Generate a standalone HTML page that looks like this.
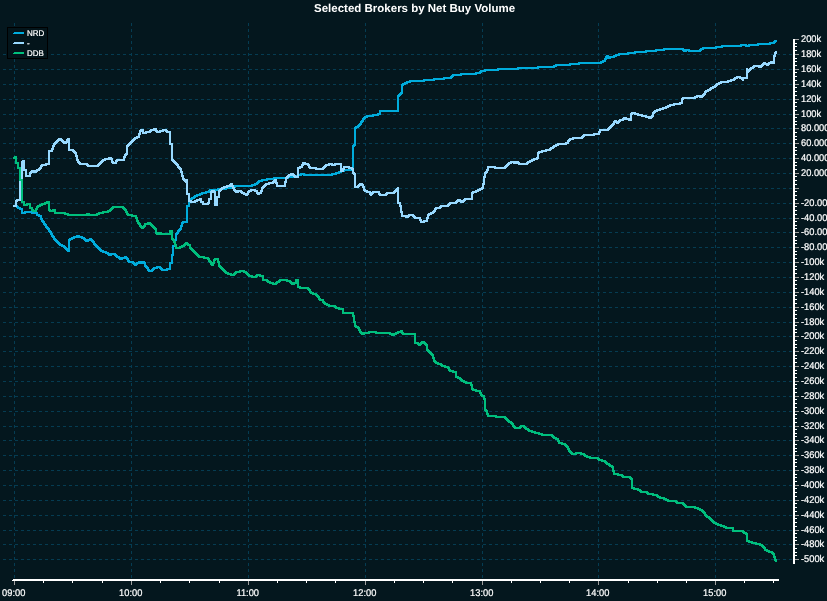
<!DOCTYPE html>
<html lang="en"><head><meta charset="utf-8"><title>Selected Brokers by Net Buy Volume</title>
<style>html,body{margin:0;padding:0;background:#04171e;overflow:hidden}body{width:827px;height:601px;position:relative}svg{display:block;position:absolute;left:0;top:0}text{font-family:"Liberation Sans",Arial,sans-serif;fill:#ffffff}.ax{font-size:9.3px;stroke:#fff;stroke-width:0.2px}.lg{font-size:8px;stroke:#fff;stroke-width:0.2px}.ti{font-size:11.5px;font-weight:bold}</style></head><body>
<svg text-rendering="geometricPrecision" width="827" height="601" viewBox="0 0 827 601">
<rect x="0" y="0" width="827" height="601" fill="#04171e"/>
<g shape-rendering="crispEdges" stroke="#053c52" stroke-width="1" stroke-dasharray="3 3" fill="none">
<line x1="3" y1="54.5" x2="792" y2="54.5"/>
<line x1="3" y1="69.5" x2="792" y2="69.5"/>
<line x1="3" y1="84.5" x2="792" y2="84.5"/>
<line x1="3" y1="99.5" x2="792" y2="99.5"/>
<line x1="3" y1="114.5" x2="792" y2="114.5"/>
<line x1="3" y1="128.5" x2="792" y2="128.5"/>
<line x1="3" y1="143.5" x2="792" y2="143.5"/>
<line x1="3" y1="158.5" x2="792" y2="158.5"/>
<line x1="3" y1="173.5" x2="792" y2="173.5"/>
<line x1="3" y1="188.5" x2="792" y2="188.5"/>
<line x1="3" y1="203.5" x2="792" y2="203.5"/>
<line x1="3" y1="218.5" x2="792" y2="218.5"/>
<line x1="3" y1="232.5" x2="792" y2="232.5"/>
<line x1="3" y1="247.5" x2="792" y2="247.5"/>
<line x1="3" y1="262.5" x2="792" y2="262.5"/>
<line x1="3" y1="277.5" x2="792" y2="277.5"/>
<line x1="3" y1="292.5" x2="792" y2="292.5"/>
<line x1="3" y1="307.5" x2="792" y2="307.5"/>
<line x1="3" y1="322.5" x2="792" y2="322.5"/>
<line x1="3" y1="336.5" x2="792" y2="336.5"/>
<line x1="3" y1="351.5" x2="792" y2="351.5"/>
<line x1="3" y1="366.5" x2="792" y2="366.5"/>
<line x1="3" y1="381.5" x2="792" y2="381.5"/>
<line x1="3" y1="396.5" x2="792" y2="396.5"/>
<line x1="3" y1="411.5" x2="792" y2="411.5"/>
<line x1="3" y1="426.5" x2="792" y2="426.5"/>
<line x1="3" y1="440.5" x2="792" y2="440.5"/>
<line x1="3" y1="455.5" x2="792" y2="455.5"/>
<line x1="3" y1="470.5" x2="792" y2="470.5"/>
<line x1="3" y1="485.5" x2="792" y2="485.5"/>
<line x1="3" y1="500.5" x2="792" y2="500.5"/>
<line x1="3" y1="515.5" x2="792" y2="515.5"/>
<line x1="3" y1="530.5" x2="792" y2="530.5"/>
<line x1="3" y1="544.5" x2="792" y2="544.5"/>
<line x1="3" y1="559.5" x2="792" y2="559.5"/>
<line x1="14.5" y1="23" x2="14.5" y2="579"/>
<line x1="131.5" y1="23" x2="131.5" y2="579"/>
<line x1="248.5" y1="23" x2="248.5" y2="579"/>
<line x1="365.5" y1="23" x2="365.5" y2="579"/>
<line x1="482.5" y1="23" x2="482.5" y2="579"/>
<line x1="598.5" y1="23" x2="598.5" y2="579"/>
<line x1="715.5" y1="23" x2="715.5" y2="579"/>
</g>
<g shape-rendering="crispEdges">
<path fill="#00acdc" d="M13 205h5v1h-5zM13 206h6v1h-6zM16 207h5v1h-5zM17 208h6v1h-6zM19 209h4v1h-4zM21 210h2v2h-2zM21 213h5v1h-5zM21 212h17v1h-17zM24 211h9v1h-9zM31 213h7v1h-7zM36 214h4v1h-4zM36 215h6v1h-6zM38 216h4v1h-4zM40 217h2v1h-2zM40 218h3v2h-3zM41 220h3v1h-3zM41 221h4v1h-4zM42 222h3v1h-3zM43 223h3v1h-3zM43 224h4v1h-4zM44 225h3v1h-3zM45 226h3v1h-3zM45 227h4v1h-4zM46 228h4v1h-4zM47 229h3v1h-3zM48 230h3v1h-3zM48 231h4v1h-4zM49 232h3v1h-3zM50 233h3v2h-3zM51 235h3v1h-3zM51 236h4v1h-4zM52 237h3v1h-3zM53 238h3v1h-3zM53 239h4v1h-4zM54 240h4v1h-4zM55 241h4v1h-4zM56 242h4v1h-4zM57 243h4v1h-4zM58 244h5v1h-5zM59 245h6v1h-6zM61 246h5v1h-5zM63 247h4v1h-4zM64 248h6v1h-6zM65 249h5v1h-5zM66 250h4v1h-4zM67 251h3v1h-3zM68 241h2v7h-2zM68 240h3v1h-3zM68 239h5v1h-5zM69 238h6v1h-6zM71 237h14v1h-14zM73 236h10v1h-10zM76 235h4v1h-4zM81 238h5v1h-5zM83 239h10v1h-10zM84 240h10v1h-10zM85 241h4v1h-4zM89 238h3v1h-3zM91 241h4v1h-4zM92 242h3v1h-3zM93 243h3v1h-3zM93 244h4v1h-4zM94 245h4v1h-4zM95 246h4v1h-4zM96 247h4v1h-4zM97 248h4v1h-4zM98 249h4v1h-4zM99 250h5v1h-5zM100 251h7v1h-7zM102 252h7v1h-7zM105 253h11v1h-11zM107 254h10v1h-10zM108 255h4v1h-4zM114 255h4v1h-4zM115 256h5v1h-5zM116 257h12v1h-12zM118 258h11v1h-11zM119 259h4v1h-4zM124 256h3v1h-3zM126 259h3v1h-3zM127 260h3v1h-3zM127 261h7v1h-7zM128 262h7v1h-7zM132 263h14v1h-14zM133 264h5v1h-5zM134 265h3v1h-3zM136 262h10v1h-10zM138 261h7v1h-7zM144 264h2v1h-2zM144 265h3v1h-3zM144 266h4v1h-4zM145 267h4v1h-4zM146 268h3v1h-3zM147 269h3v1h-3zM147 270h7v1h-7zM148 271h5v1h-5zM151 269h4v1h-4zM152 268h6v1h-6zM153 267h9v1h-9zM156 266h5v1h-5zM159 268h4v1h-4zM160 269h11v1h-11zM161 270h7v1h-7zM166 268h5v1h-5zM169 264h2v4h-2zM169 262h4v2h-4zM171 256h2v6h-2zM171 254h3v2h-3zM172 247h2v7h-2zM172 245h4v2h-4zM174 241h2v4h-2zM174 239h3v2h-3zM175 235h2v4h-2zM175 234h3v1h-3zM175 233h4v1h-4zM176 232h3v1h-3zM177 231h3v1h-3zM177 230h4v1h-4zM178 229h4v1h-4zM179 228h3v1h-3zM180 227h2v1h-2zM180 225h3v2h-3zM181 224h2v1h-2zM181 223h3v1h-3zM181 222h7v1h-7zM182 221h6v1h-6zM186 207h2v14h-2zM186 205h4v2h-4zM188 202h2v3h-2zM188 201h3v1h-3zM188 200h4v1h-4zM189 199h4v1h-4zM190 198h5v1h-5zM191 197h5v1h-5zM193 196h5v1h-5zM194 195h7v1h-7zM196 194h7v1h-7zM199 193h8v1h-8zM201 192h9v1h-9zM205 191h6v1h-6zM208 190h11v1h-11zM209 189h18v1h-18zM217 188h16v1h-16zM225 187h11v1h-11zM231 186h22v1h-22zM234 185h22v1h-22zM251 184h7v1h-7zM254 183h5v1h-5zM256 182h4v1h-4zM257 181h6v1h-6zM258 180h10v1h-10zM261 179h14v1h-14zM266 178h23v1h-23zM273 177h22v1h-22zM287 176h12v1h-12zM293 175h9v1h-9zM297 174h40v1h-40zM300 173h5v1h-5zM303 175h30v1h-30zM331 173h9v1h-9zM335 172h7v1h-7zM338 171h7v1h-7zM340 170h14v1h-14zM343 169h11v1h-11zM352 147h2v22h-2zM352 146h3v1h-3zM352 145h4v1h-4zM353 144h3v1h-3zM354 129h2v15h-2zM354 128h3v1h-3zM354 127h5v1h-5zM355 126h5v1h-5zM357 125h4v1h-4zM358 124h4v1h-4zM359 123h3v1h-3zM360 122h3v1h-3zM360 121h4v1h-4zM361 120h3v1h-3zM362 119h3v1h-3zM362 118h4v1h-4zM363 117h5v1h-5zM364 116h10v1h-10zM366 115h13v1h-13zM372 114h9v1h-9zM377 113h4v1h-4zM379 112h2v1h-2zM379 110h20v2h-20zM397 97h2v13h-2zM397 96h3v1h-3zM397 95h4v1h-4zM398 94h4v1h-4zM399 93h4v1h-4zM400 92h3v1h-3zM401 86h2v6h-2zM401 85h3v1h-3zM401 84h5v1h-5zM402 83h6v1h-6zM404 82h7v1h-7zM406 81h19v1h-19zM409 80h26v1h-26zM423 79h22v1h-22zM433 78h19v1h-19zM443 77h10v1h-10zM450 76h4v1h-4zM451 75h11v1h-11zM452 74h25v1h-25zM460 73h21v1h-21zM475 72h7v1h-7zM479 71h7v1h-7zM480 70h19v1h-19zM484 69h35v1h-35zM497 68h42v1h-42zM517 67h38v1h-38zM537 66h20v1h-20zM553 65h18v1h-18zM555 64h25v1h-25zM569 63h33v1h-33zM578 62h26v1h-26zM600 61h6v1h-6zM602 60h4v1h-4zM604 59h3v1h-3zM604 58h7v1h-7zM605 57h10v1h-10zM605 56h12v1h-12zM606 55h3v1h-3zM613 55h7v1h-7zM615 54h14v1h-14zM618 53h18v1h-18zM627 52h20v1h-20zM634 51h23v1h-23zM645 50h20v1h-20zM655 49h35v1h-35zM663 48h21v1h-21zM682 50h20v1h-20zM683 51h4v1h-4zM688 51h13v1h-13zM699 49h5v1h-5zM700 48h17v1h-17zM702 47h21v1h-21zM715 46h27v1h-27zM721 45h38v1h-38zM740 44h7v1h-7zM745 46h5v1h-5zM748 44h23v1h-23zM757 43h18v1h-18zM769 42h7v1h-7zM773 41h4v1h-4zM774 40h3v1h-3z"/>
<path fill="#98d9ff" d="M13 205h4v2h-4zM15 202h2v3h-2zM15 201h3v1h-3zM15 200h6v1h-6zM16 199h5v1h-5zM19 182h2v17h-2zM19 181h3v1h-3zM19 179h4v2h-4zM21 171h2v8h-2zM21 161h4v8h-4zM21 169h6v2h-6zM22 160h3v1h-3zM25 171h2v4h-2zM25 175h6v2h-6zM29 174h2v1h-2zM29 173h3v1h-3zM29 172h8v1h-8zM30 171h8v1h-8zM31 170h9v1h-9zM36 169h5v1h-5zM38 168h4v1h-4zM39 167h3v1h-3zM40 166h3v1h-3zM40 165h7v1h-7zM41 164h9v1h-9zM45 163h5v1h-5zM48 152h2v11h-2zM48 150h5v2h-5zM51 148h3v2h-3zM52 147h2v1h-2zM52 145h3v2h-3zM53 144h3v1h-3zM53 143h4v1h-4zM54 142h4v1h-4zM55 141h4v1h-4zM56 140h8v1h-8zM57 139h6v1h-6zM58 138h4v1h-4zM61 141h9v1h-9zM62 142h8v1h-8zM63 143h4v1h-4zM66 139h4v2h-4zM67 138h3v1h-3zM68 143h2v6h-2zM68 149h6v1h-6zM68 150h7v1h-7zM72 151h4v1h-4zM73 152h4v1h-4zM74 153h3v1h-3zM75 154h2v1h-2zM75 155h3v2h-3zM76 157h2v2h-2zM76 159h3v2h-3zM77 161h3v1h-3zM77 162h4v1h-4zM78 163h10v1h-10zM79 164h10v1h-10zM86 165h14v1h-14zM87 166h12v1h-12zM97 164h4v1h-4zM98 163h4v1h-4zM99 162h4v1h-4zM100 161h4v1h-4zM101 160h5v1h-5zM102 159h11v1h-11zM104 158h9v1h-9zM108 157h4v1h-4zM111 160h2v1h-2zM111 161h3v1h-3zM111 162h6v1h-6zM112 163h5v1h-5zM115 161h3v1h-3zM115 160h10v1h-10zM116 159h9v1h-9zM123 158h2v1h-2zM123 156h3v2h-3zM124 155h3v1h-3zM124 154h4v1h-4zM125 153h3v1h-3zM126 147h2v6h-2zM126 146h3v1h-3zM126 145h4v1h-4zM127 144h4v1h-4zM128 143h4v1h-4zM129 142h4v1h-4zM130 141h4v1h-4zM131 140h4v1h-4zM132 139h4v1h-4zM133 138h5v1h-5zM134 137h6v1h-6zM136 136h4v1h-4zM138 135h2v1h-2zM138 133h3v2h-3zM139 132h2v1h-2zM139 130h5v2h-5zM140 129h4v1h-4zM142 133h5v1h-5zM142 132h9v1h-9zM145 131h7v1h-7zM149 130h9v1h-9zM150 129h7v1h-7zM153 128h4v1h-4zM155 131h9v1h-9zM156 132h5v1h-5zM159 130h9v1h-9zM162 129h5v1h-5zM165 131h6v1h-6zM166 132h5v1h-5zM169 133h2v10h-2zM169 143h4v2h-4zM171 145h2v14h-2zM171 159h3v1h-3zM171 160h4v1h-4zM172 161h4v1h-4zM173 162h4v1h-4zM174 163h4v1h-4zM175 164h4v1h-4zM176 165h3v1h-3zM177 166h3v1h-3zM177 167h4v1h-4zM178 168h4v1h-4zM179 169h3v1h-3zM180 170h2v1h-2zM180 171h3v2h-3zM181 173h2v2h-2zM181 175h3v2h-3zM182 177h2v1h-2zM182 178h3v1h-3zM182 179h6v1h-6zM183 180h5v1h-5zM184 181h4v1h-4zM185 182h3v1h-3zM186 183h2v10h-2zM186 193h4v2h-4zM188 195h2v5h-2zM188 200h4v1h-4zM188 201h10v1h-10zM190 202h6v1h-6zM194 200h8v1h-8zM196 199h6v1h-6zM199 198h3v1h-3zM200 201h4v2h-4zM202 204h7v1h-7zM202 203h8v1h-8zM207 202h3v1h-3zM208 200h2v2h-2zM208 198h4v2h-4zM210 193h2v5h-2zM210 191h6v2h-6zM211 190h4v1h-4zM214 193h2v3h-2zM214 198h4v8h-4zM214 196h6v2h-6zM218 192h2v4h-2zM218 191h3v1h-3zM218 190h4v1h-4zM219 189h4v1h-4zM220 188h5v1h-5zM221 187h7v1h-7zM223 186h11v1h-11zM226 185h8v1h-8zM229 184h4v1h-4zM230 183h3v1h-3zM232 187h3v2h-3zM233 189h3v1h-3zM233 190h9v1h-9zM234 191h9v1h-9zM235 192h4v1h-4zM240 192h5v1h-5zM241 193h8v1h-8zM243 194h6v1h-6zM245 195h3v1h-3zM247 192h3v1h-3zM247 191h5v1h-5zM248 190h10v1h-10zM250 189h6v1h-6zM254 191h4v1h-4zM256 192h6v2h-6zM257 194h3v1h-3zM260 190h3v2h-3zM261 189h2v1h-2zM261 188h3v1h-3zM261 187h4v1h-4zM262 186h4v1h-4zM263 185h4v1h-4zM264 184h6v1h-6zM265 183h9v1h-9zM268 182h10v1h-10zM272 181h5v1h-5zM273 180h4v1h-4zM274 179h3v1h-3zM275 183h3v1h-3zM276 184h2v1h-2zM276 185h10v2h-10zM284 183h2v2h-2zM284 181h3v2h-3zM285 179h2v2h-2zM285 178h3v1h-3zM285 177h4v1h-4zM286 176h4v1h-4zM287 175h9v1h-9zM288 174h7v1h-7zM290 173h4v1h-4zM293 176h6v1h-6zM294 177h5v1h-5zM297 169h2v7h-2zM297 168h4v1h-4zM297 167h6v1h-6zM299 166h4v1h-4zM301 165h3v1h-3zM301 164h9v1h-9zM302 162h4v1h-4zM302 163h7v1h-7zM307 165h3v1h-3zM308 166h3v1h-3zM308 167h9v1h-9zM309 168h16v1h-16zM315 169h9v1h-9zM322 167h4v1h-4zM323 166h4v1h-4zM324 165h6v1h-6zM325 164h17v1h-17zM328 163h5v1h-5zM331 165h5v1h-5zM334 163h8v1h-8zM340 165h2v3h-2zM340 170h4v2h-4zM340 168h5v2h-5zM343 166h7v1h-7zM343 167h10v1h-10zM348 168h6v1h-6zM351 169h3v1h-3zM352 170h2v2h-2zM352 172h3v1h-3zM352 173h4v1h-4zM353 174h3v1h-3zM354 175h2v11h-2zM354 187h5v1h-5zM354 186h6v1h-6zM357 185h7v1h-7zM358 184h6v1h-6zM359 183h4v1h-4zM362 186h3v2h-3zM363 188h2v1h-2zM363 189h3v1h-3zM363 190h5v1h-5zM364 191h7v1h-7zM366 192h14v1h-14zM369 194h4v1h-4zM369 193h5v1h-5zM370 195h2v1h-2zM372 191h8v1h-8zM378 193h3v1h-3zM378 194h10v1h-10zM379 195h8v1h-8zM385 193h10v1h-10zM386 192h10v1h-10zM393 191h6v1h-6zM394 190h5v1h-5zM395 189h4v1h-4zM396 188h3v1h-3zM397 187h2v1h-2zM397 192h2v10h-2zM397 202h4v2h-4zM399 204h2v1h-2zM399 205h3v2h-3zM400 207h2v4h-2zM400 211h3v2h-3zM401 213h2v2h-2zM401 216h9v1h-9zM401 215h14v1h-14zM405 217h4v1h-4zM408 214h6v1h-6zM412 216h4v1h-4zM413 217h8v1h-8zM414 218h7v1h-7zM419 219h3v2h-3zM420 222h5v1h-5zM420 221h8v1h-8zM423 220h5v1h-5zM426 219h2v1h-2zM426 217h3v2h-3zM427 216h2v1h-2zM427 215h3v1h-3zM427 214h5v1h-5zM428 213h6v1h-6zM430 212h5v1h-5zM432 211h4v1h-4zM433 210h3v1h-3zM434 209h3v1h-3zM434 208h7v1h-7zM435 207h7v1h-7zM439 206h10v1h-10zM440 205h10v1h-10zM447 204h4v1h-4zM448 203h9v1h-9zM449 202h9v1h-9zM455 201h10v1h-10zM456 200h10v1h-10zM457 199h4v1h-4zM460 202h4v1h-4zM463 199h10v1h-10zM464 198h9v1h-9zM471 194h2v4h-2zM471 193h3v1h-3zM471 192h6v1h-6zM472 191h7v1h-7zM475 190h6v1h-6zM477 189h6v1h-6zM479 188h5v1h-5zM481 187h3v1h-3zM482 185h2v2h-2zM482 183h3v2h-3zM483 178h2v5h-2zM483 176h3v2h-3zM484 174h2v2h-2zM484 173h3v1h-3zM484 172h4v1h-4zM485 171h3v1h-3zM486 169h3v2h-3zM487 168h2v1h-2zM487 166h9v1h-9zM487 167h20v1h-20zM494 168h12v1h-12zM504 166h4v1h-4zM505 165h4v1h-4zM506 164h4v1h-4zM507 163h5v1h-5zM508 162h12v1h-12zM510 161h9v1h-9zM513 163h16v1h-16zM518 164h10v1h-10zM526 162h5v1h-5zM527 161h6v1h-6zM529 160h6v1h-6zM531 159h7v1h-7zM533 158h6v1h-6zM536 157h3v1h-3zM537 154h2v3h-2zM537 153h3v1h-3zM537 152h6v1h-6zM538 151h9v1h-9zM541 150h10v1h-10zM545 149h7v1h-7zM549 148h5v1h-5zM550 147h5v1h-5zM552 146h5v1h-5zM553 145h6v1h-6zM555 144h12v1h-12zM557 143h12v1h-12zM565 142h4v1h-4zM567 141h3v1h-3zM567 140h4v1h-4zM568 139h6v1h-6zM569 138h14v1h-14zM572 137h12v1h-12zM581 136h4v1h-4zM582 135h13v1h-13zM583 134h17v1h-17zM593 133h7v1h-7zM598 131h3v2h-3zM599 130h10v1h-10zM599 129h11v1h-11zM607 128h4v1h-4zM608 127h4v1h-4zM609 126h4v1h-4zM610 125h4v1h-4zM611 124h4v1h-4zM612 123h3v1h-3zM613 122h7v1h-7zM613 121h8v1h-8zM614 120h3v1h-3zM616 123h3v1h-3zM618 120h6v1h-6zM619 119h13v1h-13zM622 118h10v1h-10zM623 117h4v1h-4zM628 120h4v1h-4zM630 115h2v3h-2zM630 114h3v1h-3zM630 113h9v1h-9zM631 112h5v1h-5zM634 114h9v1h-9zM637 115h10v1h-10zM641 116h13v1h-13zM645 117h8v1h-8zM648 118h4v1h-4zM651 115h3v1h-3zM652 114h2v1h-2zM652 113h3v1h-3zM652 112h4v1h-4zM653 111h5v1h-5zM654 110h7v1h-7zM656 109h8v1h-8zM659 108h8v1h-8zM662 107h7v1h-7zM665 106h6v1h-6zM667 105h8v1h-8zM669 104h12v1h-12zM673 103h10v1h-10zM679 102h4v1h-4zM681 100h2v2h-2zM681 99h3v1h-3zM681 98h15v1h-15zM682 97h16v1h-16zM694 96h10v1h-10zM696 95h9v1h-9zM699 97h4v1h-4zM702 94h4v1h-4zM703 93h3v1h-3zM704 92h3v1h-3zM704 91h5v1h-5zM705 90h6v1h-6zM707 89h5v1h-5zM709 88h5v1h-5zM710 87h6v1h-6zM712 86h5v1h-5zM714 85h4v1h-4zM715 84h5v1h-5zM716 83h6v1h-6zM718 82h11v1h-11zM720 81h12v1h-12zM727 80h8v1h-8zM730 79h6v1h-6zM733 78h5v1h-5zM734 77h14v1h-14zM736 76h5v1h-5zM739 78h9v1h-9zM741 79h3v1h-3zM742 80h2v1h-2zM746 68h2v1h-2zM746 73h2v4h-2zM746 72h3v1h-3zM746 71h4v1h-4zM746 70h5v1h-5zM746 69h6v1h-6zM749 68h5v1h-5zM750 67h5v1h-5zM752 66h11v1h-11zM753 65h11v1h-11zM758 67h4v1h-4zM761 64h9v1h-9zM762 63h13v1h-13zM763 62h3v1h-3zM766 65h3v1h-3zM768 62h7v1h-7zM770 61h5v1h-5zM773 57h2v4h-2zM773 55h3v2h-3zM774 54h2v1h-2zM774 52h3v2h-3zM775 51h2v1h-2z"/>
<path fill="#00be7d" d="M13 157h4v2h-4zM14 156h3v1h-3zM15 159h2v3h-2zM15 162h4v2h-4zM17 164h2v3h-2zM17 167h4v2h-4zM19 169h2v10h-2zM19 179h4v2h-4zM21 181h2v20h-2zM21 201h4v2h-4zM23 203h2v1h-2zM23 205h5v1h-5zM23 204h8v1h-8zM26 203h5v1h-5zM29 205h2v2h-2zM29 207h4v2h-4zM31 209h3v1h-3zM31 210h6v1h-6zM32 211h5v1h-5zM35 208h3v2h-3zM36 207h3v1h-3zM36 206h5v1h-5zM37 205h6v1h-6zM39 204h7v1h-7zM41 203h9v1h-9zM44 202h6v1h-6zM46 201h4v1h-4zM48 204h2v5h-2zM48 209h3v1h-3zM48 210h8v1h-8zM49 211h7v1h-7zM52 209h4v1h-4zM54 212h12v1h-12zM54 213h15v1h-15zM64 214h36v1h-36zM67 215h31v1h-31zM86 213h4v1h-4zM96 213h8v1h-8zM98 212h11v1h-11zM102 211h9v1h-9zM107 210h5v1h-5zM109 209h4v1h-4zM110 208h4v1h-4zM111 207h14v1h-14zM112 206h12v1h-12zM122 208h4v1h-4zM123 209h4v1h-4zM124 210h3v1h-3zM125 211h3v2h-3zM126 213h3v1h-3zM126 214h7v1h-7zM127 215h10v1h-10zM131 216h6v1h-6zM135 217h3v2h-3zM136 219h2v1h-2zM136 220h3v2h-3zM137 222h3v1h-3zM137 223h4v1h-4zM138 224h3v1h-3zM139 225h3v1h-3zM139 226h7v1h-7zM140 227h5v1h-5zM141 228h3v1h-3zM143 225h3v1h-3zM144 223h8v1h-8zM144 224h9v1h-9zM147 222h4v1h-4zM150 225h4v1h-4zM151 226h4v1h-4zM152 227h4v1h-4zM153 228h4v1h-4zM154 229h3v1h-3zM155 230h2v2h-2zM155 232h7v1h-7zM155 233h18v1h-18zM156 234h17v1h-17zM169 230h4v3h-4zM171 235h2v3h-2zM171 238h3v1h-3zM171 239h4v1h-4zM172 240h3v1h-3zM173 241h3v2h-3zM174 243h2v1h-2zM174 244h3v2h-3zM175 246h2v1h-2zM175 248h6v1h-6zM175 247h8v1h-8zM179 246h6v1h-6zM181 245h5v1h-5zM183 244h8v1h-8zM184 243h5v1h-5zM185 242h3v1h-3zM187 245h4v1h-4zM189 246h2v1h-2zM189 247h3v1h-3zM189 248h4v1h-4zM190 249h4v1h-4zM191 250h4v1h-4zM192 251h4v1h-4zM193 252h4v1h-4zM194 253h4v1h-4zM195 254h4v1h-4zM196 255h4v1h-4zM197 256h8v1h-8zM198 257h11v1h-11zM203 258h7v1h-7zM207 259h3v1h-3zM208 260h3v1h-3zM208 261h4v1h-4zM209 262h6v1h-6zM210 264h4v1h-4zM210 263h5v1h-5zM211 265h3v1h-3zM213 261h2v1h-2zM213 260h3v1h-3zM213 259h6v1h-6zM214 258h5v1h-5zM217 260h2v1h-2zM217 261h3v2h-3zM218 263h2v2h-2zM218 265h3v1h-3zM218 266h4v1h-4zM219 267h4v1h-4zM220 268h4v1h-4zM221 269h4v1h-4zM222 270h4v1h-4zM223 271h4v1h-4zM224 272h5v1h-5zM225 273h7v1h-7zM227 274h9v1h-9zM230 275h5v1h-5zM233 273h4v1h-4zM234 272h7v1h-7zM235 271h12v1h-12zM239 270h6v1h-6zM243 272h5v1h-5zM245 273h4v1h-4zM246 274h4v1h-4zM247 275h6v1h-6zM248 276h10v1h-10zM251 277h6v1h-6zM255 275h9v1h-9zM256 274h5v1h-5zM259 276h5v1h-5zM262 277h2v2h-2zM262 279h6v1h-6zM262 280h7v1h-7zM266 281h5v1h-5zM267 282h7v1h-7zM269 283h9v1h-9zM272 284h5v1h-5zM275 282h5v1h-5zM276 281h5v1h-5zM278 280h13v1h-13zM279 279h9v1h-9zM286 281h6v1h-6zM289 282h10v1h-10zM290 283h9v1h-9zM291 284h4v1h-4zM295 279h4v3h-4zM297 284h2v2h-2zM297 286h4v1h-4zM297 287h12v1h-12zM299 288h11v1h-11zM307 289h4v1h-4zM308 290h3v1h-3zM309 291h3v1h-3zM309 292h5v1h-5zM310 293h7v1h-7zM312 294h6v1h-6zM315 295h4v1h-4zM316 296h4v1h-4zM317 297h3v1h-3zM318 298h3v1h-3zM318 299h6v1h-6zM319 300h5v1h-5zM322 301h3v1h-3zM322 302h4v1h-4zM323 303h5v1h-5zM324 304h6v1h-6zM326 305h10v1h-10zM328 306h9v1h-9zM334 307h6v1h-6zM335 308h9v1h-9zM338 309h6v1h-6zM342 310h2v2h-2zM342 312h12v2h-12zM352 314h2v1h-2zM352 315h3v2h-3zM353 317h2v4h-2zM353 321h3v2h-3zM354 323h2v2h-2zM354 325h3v1h-3zM354 326h5v1h-5zM355 327h5v1h-5zM357 328h3v1h-3zM358 329h3v2h-3zM359 331h3v1h-3zM359 332h32v1h-32zM360 333h10v1h-10zM361 334h4v1h-4zM368 331h9v1h-9zM375 333h24v1h-24zM389 334h8v1h-8zM391 335h4v1h-4zM395 332h9v1h-9zM397 331h6v1h-6zM400 330h3v1h-3zM401 333h15v1h-15zM402 334h14v1h-14zM414 335h2v7h-2zM414 342h5v1h-5zM414 343h13v1h-13zM417 344h5v1h-5zM418 345h3v1h-3zM420 342h6v1h-6zM421 341h4v1h-4zM424 344h4v1h-4zM425 345h3v1h-3zM426 346h2v3h-2zM426 349h3v1h-3zM426 350h4v1h-4zM427 351h4v1h-4zM428 352h4v1h-4zM429 353h4v1h-4zM430 354h4v1h-4zM431 355h3v1h-3zM432 356h2v1h-2zM432 357h3v2h-3zM433 359h2v1h-2zM433 360h3v1h-3zM433 361h4v1h-4zM434 362h5v1h-5zM435 363h7v1h-7zM437 364h6v1h-6zM440 365h6v1h-6zM441 366h8v1h-8zM444 367h6v1h-6zM447 368h3v1h-3zM448 369h3v1h-3zM448 370h6v1h-6zM449 371h8v1h-8zM452 372h5v1h-5zM455 373h2v3h-2zM455 376h4v1h-4zM455 377h6v1h-6zM457 378h5v1h-5zM459 379h4v1h-4zM460 380h5v1h-5zM461 381h6v1h-6zM463 382h9v1h-9zM465 383h7v1h-7zM470 384h3v2h-3zM471 386h2v2h-2zM471 388h3v1h-3zM471 389h6v1h-6zM472 390h9v1h-9zM475 391h6v1h-6zM479 392h3v2h-3zM480 394h3v1h-3zM480 395h5v1h-5zM481 396h4v1h-4zM483 397h2v1h-2zM483 398h3v2h-3zM484 400h2v9h-2zM484 409h3v1h-3zM484 410h4v1h-4zM485 411h3v1h-3zM486 412h2v1h-2zM486 413h3v2h-3zM487 415h10v1h-10zM487 416h19v1h-19zM495 417h12v1h-12zM504 418h4v1h-4zM505 419h4v1h-4zM506 420h4v1h-4zM507 421h5v1h-5zM508 422h5v1h-5zM510 423h4v1h-4zM511 424h3v1h-3zM512 425h3v1h-3zM512 426h4v1h-4zM513 427h9v1h-9zM514 428h7v1h-7zM519 426h7v1h-7zM520 425h5v1h-5zM523 427h4v1h-4zM524 428h5v1h-5zM525 429h5v1h-5zM527 430h6v1h-6zM528 431h8v1h-8zM531 432h9v1h-9zM534 433h9v1h-9zM538 434h15v1h-15zM541 435h13v1h-13zM551 436h4v1h-4zM552 437h5v1h-5zM553 438h6v1h-6zM555 439h4v1h-4zM557 440h3v2h-3zM558 442h5v1h-5zM558 443h8v1h-8zM561 444h6v1h-6zM564 445h4v1h-4zM565 446h4v1h-4zM566 447h3v1h-3zM567 448h3v2h-3zM568 450h3v1h-3zM568 451h4v1h-4zM569 452h4v1h-4zM570 453h15v1h-15zM571 454h6v1h-6zM575 452h7v1h-7zM580 454h6v1h-6zM583 455h5v1h-5zM584 456h7v1h-7zM586 457h13v1h-13zM589 458h11v1h-11zM597 459h6v1h-6zM598 460h8v1h-8zM601 461h6v1h-6zM604 462h4v1h-4zM605 463h5v1h-5zM606 464h5v1h-5zM608 465h5v1h-5zM609 466h5v1h-5zM611 467h3v1h-3zM612 468h2v2h-2zM612 470h3v2h-3zM613 472h2v1h-2zM613 473h6v1h-6zM613 474h10v1h-10zM617 475h7v1h-7zM621 476h10v1h-10zM622 477h10v1h-10zM629 478h4v1h-4zM630 479h3v1h-3zM631 480h2v7h-2zM631 487h4v1h-4zM631 488h8v1h-8zM633 489h8v1h-8zM637 490h5v1h-5zM639 491h9v1h-9zM640 492h9v1h-9zM646 493h8v1h-8zM647 494h11v1h-11zM652 495h7v1h-7zM656 496h5v1h-5zM657 497h8v1h-8zM659 498h8v1h-8zM663 499h6v1h-6zM665 500h12v1h-12zM667 501h11v1h-11zM675 502h9v1h-9zM676 503h9v1h-9zM682 504h4v1h-4zM683 505h4v1h-4zM684 506h12v1h-12zM685 507h14v1h-14zM694 508h7v1h-7zM697 509h6v1h-6zM699 510h5v1h-5zM701 511h4v1h-4zM702 512h4v1h-4zM703 513h3v1h-3zM704 514h3v1h-3zM704 515h4v1h-4zM705 516h5v1h-5zM706 517h5v1h-5zM708 518h4v1h-4zM709 519h4v1h-4zM710 520h4v1h-4zM711 521h4v1h-4zM712 522h5v1h-5zM713 523h6v1h-6zM715 524h7v1h-7zM717 525h8v1h-8zM720 526h7v1h-7zM723 527h11v1h-11zM725 528h9v1h-9zM732 529h2v1h-2zM732 530h12v1h-12zM732 531h13v1h-13zM742 532h5v1h-5zM743 533h5v1h-5zM745 534h3v1h-3zM746 535h2v5h-2zM746 540h4v1h-4zM746 541h7v1h-7zM748 542h9v1h-9zM751 543h10v1h-10zM755 544h8v1h-8zM759 545h5v1h-5zM761 546h4v1h-4zM762 547h4v1h-4zM763 548h3v1h-3zM764 549h4v1h-4zM764 550h6v1h-6zM766 551h7v1h-7zM768 552h6v1h-6zM771 553h4v1h-4zM772 554h3v1h-3zM773 555h2v1h-2zM773 556h3v2h-3zM774 558h2v1h-2zM774 559h3v2h-3zM775 561h2v1h-2z"/>
</g>
<g shape-rendering="crispEdges">
<rect x="13" y="579" width="766" height="1" fill="#fff"/>
<rect x="12" y="580" width="767" height="1" fill="#fff"/>
<rect x="793" y="39" width="2" height="525" fill="#fff"/>
<rect x="14" y="581" width="1" height="4" fill="#a0a0a0"/>
<rect x="43" y="581" width="1" height="2" fill="#fff"/>
<rect x="72" y="581" width="1" height="2" fill="#fff"/>
<rect x="102" y="581" width="1" height="2" fill="#fff"/>
<rect x="131" y="581" width="1" height="4" fill="#a0a0a0"/>
<rect x="160" y="581" width="1" height="2" fill="#fff"/>
<rect x="189" y="581" width="1" height="2" fill="#fff"/>
<rect x="219" y="581" width="1" height="2" fill="#fff"/>
<rect x="248" y="581" width="1" height="4" fill="#a0a0a0"/>
<rect x="277" y="581" width="1" height="2" fill="#fff"/>
<rect x="306" y="581" width="1" height="2" fill="#fff"/>
<rect x="335" y="581" width="1" height="2" fill="#fff"/>
<rect x="365" y="581" width="1" height="4" fill="#a0a0a0"/>
<rect x="394" y="581" width="1" height="2" fill="#fff"/>
<rect x="423" y="581" width="1" height="2" fill="#fff"/>
<rect x="452" y="581" width="1" height="2" fill="#fff"/>
<rect x="482" y="581" width="1" height="4" fill="#a0a0a0"/>
<rect x="511" y="581" width="1" height="2" fill="#fff"/>
<rect x="540" y="581" width="1" height="2" fill="#fff"/>
<rect x="569" y="581" width="1" height="2" fill="#fff"/>
<rect x="598" y="581" width="1" height="4" fill="#a0a0a0"/>
<rect x="628" y="581" width="1" height="2" fill="#fff"/>
<rect x="657" y="581" width="1" height="2" fill="#fff"/>
<rect x="686" y="581" width="1" height="2" fill="#fff"/>
<rect x="715" y="581" width="1" height="4" fill="#a0a0a0"/>
<rect x="744" y="581" width="1" height="2" fill="#fff"/>
<rect x="773" y="581" width="1" height="2" fill="#fff"/>
<rect x="795" y="39" width="4" height="1" fill="#a0a0a0"/>
<rect x="795" y="54" width="4" height="1" fill="#a0a0a0"/>
<rect x="795" y="69" width="4" height="1" fill="#a0a0a0"/>
<rect x="795" y="84" width="4" height="1" fill="#a0a0a0"/>
<rect x="795" y="99" width="4" height="1" fill="#a0a0a0"/>
<rect x="795" y="114" width="4" height="1" fill="#a0a0a0"/>
<rect x="795" y="128" width="4" height="1" fill="#a0a0a0"/>
<rect x="795" y="143" width="4" height="1" fill="#a0a0a0"/>
<rect x="795" y="158" width="4" height="1" fill="#a0a0a0"/>
<rect x="795" y="173" width="4" height="1" fill="#a0a0a0"/>
<rect x="795" y="188" width="4" height="1" fill="#a0a0a0"/>
<rect x="795" y="203" width="4" height="1" fill="#a0a0a0"/>
<rect x="795" y="218" width="4" height="1" fill="#a0a0a0"/>
<rect x="795" y="232" width="4" height="1" fill="#a0a0a0"/>
<rect x="795" y="247" width="4" height="1" fill="#a0a0a0"/>
<rect x="795" y="262" width="4" height="1" fill="#a0a0a0"/>
<rect x="795" y="277" width="4" height="1" fill="#a0a0a0"/>
<rect x="795" y="292" width="4" height="1" fill="#a0a0a0"/>
<rect x="795" y="307" width="4" height="1" fill="#a0a0a0"/>
<rect x="795" y="322" width="4" height="1" fill="#a0a0a0"/>
<rect x="795" y="336" width="4" height="1" fill="#a0a0a0"/>
<rect x="795" y="351" width="4" height="1" fill="#a0a0a0"/>
<rect x="795" y="366" width="4" height="1" fill="#a0a0a0"/>
<rect x="795" y="381" width="4" height="1" fill="#a0a0a0"/>
<rect x="795" y="396" width="4" height="1" fill="#a0a0a0"/>
<rect x="795" y="411" width="4" height="1" fill="#a0a0a0"/>
<rect x="795" y="426" width="4" height="1" fill="#a0a0a0"/>
<rect x="795" y="440" width="4" height="1" fill="#a0a0a0"/>
<rect x="795" y="455" width="4" height="1" fill="#a0a0a0"/>
<rect x="795" y="470" width="4" height="1" fill="#a0a0a0"/>
<rect x="795" y="485" width="4" height="1" fill="#a0a0a0"/>
<rect x="795" y="500" width="4" height="1" fill="#a0a0a0"/>
<rect x="795" y="515" width="4" height="1" fill="#a0a0a0"/>
<rect x="795" y="530" width="4" height="1" fill="#a0a0a0"/>
<rect x="795" y="544" width="4" height="1" fill="#a0a0a0"/>
<rect x="795" y="559" width="4" height="1" fill="#a0a0a0"/>
<rect x="795" y="43" width="2" height="1" fill="#fff"/>
<rect x="795" y="46" width="2" height="1" fill="#fff"/>
<rect x="795" y="50" width="2" height="1" fill="#fff"/>
<rect x="795" y="58" width="2" height="1" fill="#fff"/>
<rect x="795" y="61" width="2" height="1" fill="#fff"/>
<rect x="795" y="65" width="2" height="1" fill="#fff"/>
<rect x="795" y="72" width="2" height="1" fill="#fff"/>
<rect x="795" y="76" width="2" height="1" fill="#fff"/>
<rect x="795" y="80" width="2" height="1" fill="#fff"/>
<rect x="795" y="87" width="2" height="1" fill="#fff"/>
<rect x="795" y="91" width="2" height="1" fill="#fff"/>
<rect x="795" y="95" width="2" height="1" fill="#fff"/>
<rect x="795" y="102" width="2" height="1" fill="#fff"/>
<rect x="795" y="106" width="2" height="1" fill="#fff"/>
<rect x="795" y="110" width="2" height="1" fill="#fff"/>
<rect x="795" y="117" width="2" height="1" fill="#fff"/>
<rect x="795" y="121" width="2" height="1" fill="#fff"/>
<rect x="795" y="124" width="2" height="1" fill="#fff"/>
<rect x="795" y="132" width="2" height="1" fill="#fff"/>
<rect x="795" y="136" width="2" height="1" fill="#fff"/>
<rect x="795" y="139" width="2" height="1" fill="#fff"/>
<rect x="795" y="147" width="2" height="1" fill="#fff"/>
<rect x="795" y="150" width="2" height="1" fill="#fff"/>
<rect x="795" y="154" width="2" height="1" fill="#fff"/>
<rect x="795" y="162" width="2" height="1" fill="#fff"/>
<rect x="795" y="165" width="2" height="1" fill="#fff"/>
<rect x="795" y="169" width="2" height="1" fill="#fff"/>
<rect x="795" y="176" width="2" height="1" fill="#fff"/>
<rect x="795" y="180" width="2" height="1" fill="#fff"/>
<rect x="795" y="184" width="2" height="1" fill="#fff"/>
<rect x="795" y="191" width="2" height="1" fill="#fff"/>
<rect x="795" y="195" width="2" height="1" fill="#fff"/>
<rect x="795" y="199" width="2" height="1" fill="#fff"/>
<rect x="795" y="206" width="2" height="1" fill="#fff"/>
<rect x="795" y="210" width="2" height="1" fill="#fff"/>
<rect x="795" y="214" width="2" height="1" fill="#fff"/>
<rect x="795" y="221" width="2" height="1" fill="#fff"/>
<rect x="795" y="225" width="2" height="1" fill="#fff"/>
<rect x="795" y="228" width="2" height="1" fill="#fff"/>
<rect x="795" y="236" width="2" height="1" fill="#fff"/>
<rect x="795" y="240" width="2" height="1" fill="#fff"/>
<rect x="795" y="243" width="2" height="1" fill="#fff"/>
<rect x="795" y="251" width="2" height="1" fill="#fff"/>
<rect x="795" y="254" width="2" height="1" fill="#fff"/>
<rect x="795" y="258" width="2" height="1" fill="#fff"/>
<rect x="795" y="266" width="2" height="1" fill="#fff"/>
<rect x="795" y="269" width="2" height="1" fill="#fff"/>
<rect x="795" y="273" width="2" height="1" fill="#fff"/>
<rect x="795" y="280" width="2" height="1" fill="#fff"/>
<rect x="795" y="284" width="2" height="1" fill="#fff"/>
<rect x="795" y="288" width="2" height="1" fill="#fff"/>
<rect x="795" y="295" width="2" height="1" fill="#fff"/>
<rect x="795" y="299" width="2" height="1" fill="#fff"/>
<rect x="795" y="303" width="2" height="1" fill="#fff"/>
<rect x="795" y="310" width="2" height="1" fill="#fff"/>
<rect x="795" y="314" width="2" height="1" fill="#fff"/>
<rect x="795" y="318" width="2" height="1" fill="#fff"/>
<rect x="795" y="325" width="2" height="1" fill="#fff"/>
<rect x="795" y="329" width="2" height="1" fill="#fff"/>
<rect x="795" y="332" width="2" height="1" fill="#fff"/>
<rect x="795" y="340" width="2" height="1" fill="#fff"/>
<rect x="795" y="344" width="2" height="1" fill="#fff"/>
<rect x="795" y="347" width="2" height="1" fill="#fff"/>
<rect x="795" y="355" width="2" height="1" fill="#fff"/>
<rect x="795" y="358" width="2" height="1" fill="#fff"/>
<rect x="795" y="362" width="2" height="1" fill="#fff"/>
<rect x="795" y="370" width="2" height="1" fill="#fff"/>
<rect x="795" y="373" width="2" height="1" fill="#fff"/>
<rect x="795" y="377" width="2" height="1" fill="#fff"/>
<rect x="795" y="384" width="2" height="1" fill="#fff"/>
<rect x="795" y="388" width="2" height="1" fill="#fff"/>
<rect x="795" y="392" width="2" height="1" fill="#fff"/>
<rect x="795" y="399" width="2" height="1" fill="#fff"/>
<rect x="795" y="403" width="2" height="1" fill="#fff"/>
<rect x="795" y="407" width="2" height="1" fill="#fff"/>
<rect x="795" y="414" width="2" height="1" fill="#fff"/>
<rect x="795" y="418" width="2" height="1" fill="#fff"/>
<rect x="795" y="422" width="2" height="1" fill="#fff"/>
<rect x="795" y="429" width="2" height="1" fill="#fff"/>
<rect x="795" y="433" width="2" height="1" fill="#fff"/>
<rect x="795" y="436" width="2" height="1" fill="#fff"/>
<rect x="795" y="444" width="2" height="1" fill="#fff"/>
<rect x="795" y="448" width="2" height="1" fill="#fff"/>
<rect x="795" y="451" width="2" height="1" fill="#fff"/>
<rect x="795" y="459" width="2" height="1" fill="#fff"/>
<rect x="795" y="462" width="2" height="1" fill="#fff"/>
<rect x="795" y="466" width="2" height="1" fill="#fff"/>
<rect x="795" y="474" width="2" height="1" fill="#fff"/>
<rect x="795" y="477" width="2" height="1" fill="#fff"/>
<rect x="795" y="481" width="2" height="1" fill="#fff"/>
<rect x="795" y="488" width="2" height="1" fill="#fff"/>
<rect x="795" y="492" width="2" height="1" fill="#fff"/>
<rect x="795" y="496" width="2" height="1" fill="#fff"/>
<rect x="795" y="503" width="2" height="1" fill="#fff"/>
<rect x="795" y="507" width="2" height="1" fill="#fff"/>
<rect x="795" y="511" width="2" height="1" fill="#fff"/>
<rect x="795" y="518" width="2" height="1" fill="#fff"/>
<rect x="795" y="522" width="2" height="1" fill="#fff"/>
<rect x="795" y="526" width="2" height="1" fill="#fff"/>
<rect x="795" y="533" width="2" height="1" fill="#fff"/>
<rect x="795" y="537" width="2" height="1" fill="#fff"/>
<rect x="795" y="540" width="2" height="1" fill="#fff"/>
<rect x="795" y="548" width="2" height="1" fill="#fff"/>
<rect x="795" y="552" width="2" height="1" fill="#fff"/>
<rect x="795" y="555" width="2" height="1" fill="#fff"/>
</g>
<g shape-rendering="crispEdges">
<rect x="7.5" y="27.5" width="40" height="31" fill="#03141a" stroke="#000" stroke-width="1"/>
<rect x="14" y="32" width="10" height="1" fill="#00acdc"/>
<rect x="13" y="33" width="11" height="1" fill="#00acdc"/>
<rect x="14" y="42" width="10" height="1" fill="#98d9ff"/>
<rect x="13" y="43" width="11" height="1" fill="#98d9ff"/>
<rect x="14" y="52" width="10" height="1" fill="#00be7d"/>
<rect x="13" y="53" width="11" height="1" fill="#00be7d"/>
</g>
<text class="lg" transform="translate(27.0 36.0) scale(1 1.05)">NRD</text>
<text class="lg" transform="translate(27.0 46.0) scale(1 1.05)">-</text>
<text class="lg" transform="translate(27.0 56.0) scale(1 1.05)">DDB</text>
<text class="ti" x="414.6" y="12" text-anchor="middle">Selected Brokers by Net Buy Volume</text>
<text class="ax" transform="translate(801.0 42.0) scale(1 1.05)">200k</text>
<text class="ax" transform="translate(801.0 57.0) scale(1 1.05)">180k</text>
<text class="ax" transform="translate(801.0 72.0) scale(1 1.05)">160k</text>
<text class="ax" transform="translate(801.0 87.0) scale(1 1.05)">140k</text>
<text class="ax" transform="translate(801.0 102.0) scale(1 1.05)">120k</text>
<text class="ax" transform="translate(801.0 117.0) scale(1 1.05)">100k</text>
<text class="ax" transform="translate(801.0 131.0) scale(1 1.05)">80.000</text>
<text class="ax" transform="translate(801.0 146.0) scale(1 1.05)">60.000</text>
<text class="ax" transform="translate(801.0 161.0) scale(1 1.05)">40.000</text>
<text class="ax" transform="translate(801.0 176.0) scale(1 1.05)">20.000</text>
<text class="ax" transform="translate(801.0 206.0) scale(1 1.05)">-20.000</text>
<text class="ax" transform="translate(801.0 221.0) scale(1 1.05)">-40.000</text>
<text class="ax" transform="translate(801.0 235.0) scale(1 1.05)">-60.000</text>
<text class="ax" transform="translate(801.0 250.0) scale(1 1.05)">-80.000</text>
<text class="ax" transform="translate(801.0 265.0) scale(1 1.05)">-100k</text>
<text class="ax" transform="translate(801.0 280.0) scale(1 1.05)">-120k</text>
<text class="ax" transform="translate(801.0 295.0) scale(1 1.05)">-140k</text>
<text class="ax" transform="translate(801.0 310.0) scale(1 1.05)">-160k</text>
<text class="ax" transform="translate(801.0 325.0) scale(1 1.05)">-180k</text>
<text class="ax" transform="translate(801.0 339.0) scale(1 1.05)">-200k</text>
<text class="ax" transform="translate(801.0 354.0) scale(1 1.05)">-220k</text>
<text class="ax" transform="translate(801.0 369.0) scale(1 1.05)">-240k</text>
<text class="ax" transform="translate(801.0 384.0) scale(1 1.05)">-260k</text>
<text class="ax" transform="translate(801.0 399.0) scale(1 1.05)">-280k</text>
<text class="ax" transform="translate(801.0 414.0) scale(1 1.05)">-300k</text>
<text class="ax" transform="translate(801.0 429.0) scale(1 1.05)">-320k</text>
<text class="ax" transform="translate(801.0 443.0) scale(1 1.05)">-340k</text>
<text class="ax" transform="translate(801.0 458.0) scale(1 1.05)">-360k</text>
<text class="ax" transform="translate(801.0 473.0) scale(1 1.05)">-380k</text>
<text class="ax" transform="translate(801.0 488.0) scale(1 1.05)">-400k</text>
<text class="ax" transform="translate(801.0 503.0) scale(1 1.05)">-420k</text>
<text class="ax" transform="translate(801.0 518.0) scale(1 1.05)">-440k</text>
<text class="ax" transform="translate(801.0 533.0) scale(1 1.05)">-460k</text>
<text class="ax" transform="translate(801.0 547.0) scale(1 1.05)">-480k</text>
<text class="ax" transform="translate(801.0 562.0) scale(1 1.05)">-500k</text>
<text class="ax" transform="translate(13.7 596.0) scale(1 1.05)" text-anchor="middle">09:00</text>
<text class="ax" transform="translate(130.7 596.0) scale(1 1.05)" text-anchor="middle">10:00</text>
<text class="ax" transform="translate(247.7 596.0) scale(1 1.05)" text-anchor="middle">11:00</text>
<text class="ax" transform="translate(364.7 596.0) scale(1 1.05)" text-anchor="middle">12:00</text>
<text class="ax" transform="translate(481.7 596.0) scale(1 1.05)" text-anchor="middle">13:00</text>
<text class="ax" transform="translate(597.7 596.0) scale(1 1.05)" text-anchor="middle">14:00</text>
<text class="ax" transform="translate(714.7 596.0) scale(1 1.05)" text-anchor="middle">15:00</text>
</svg></body></html>
